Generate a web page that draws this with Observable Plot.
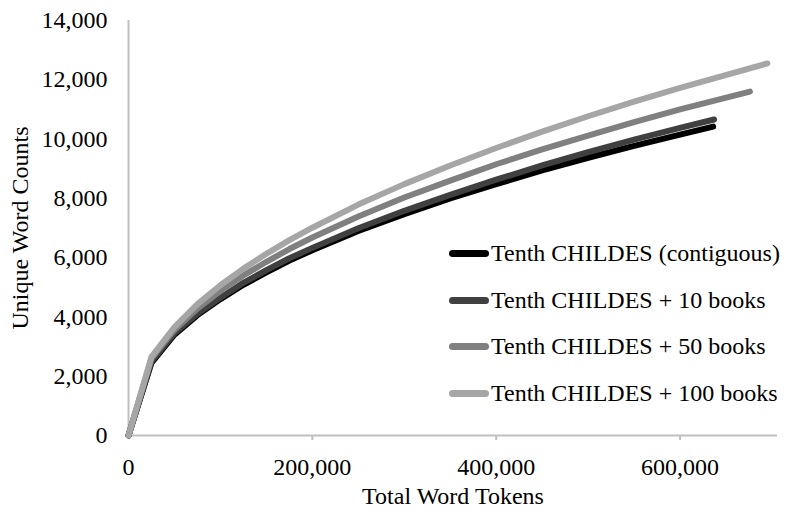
<!DOCTYPE html>
<html>
<head>
<meta charset="utf-8">
<script src="https://cdn.jsdelivr.net/npm/d3@7"></script>
<script src="https://cdn.jsdelivr.net/npm/@observablehq/plot@0.6"></script>
<style>
  html, body { margin: 0; padding: 0; background: #fff; }
  #wrap { position: relative; width: 791px; height: 516px; font-family: "Liberation Serif", "Times New Roman", serif; }
  .row { position: absolute; display: flex; align-items: center; font-size: 24px; color: #000; white-space: nowrap; }
  .sw { width: 40px; height: 7px; border-radius: 4px; margin-right: 2px; }
</style>
</head>
<body>
<div id="wrap"></div>
<script>
// ---- data ----
const seriesNames = [
  "Tenth CHILDES (contiguous)",
  "Tenth CHILDES + 10 books",
  "Tenth CHILDES + 50 books",
  "Tenth CHILDES + 100 books"
];
const seriesColors = ["#000000", "#404040", "#808080", "#a6a6a6"];

const contiguousX = [0, 25000, 50000, 75000, 100000, 125000, 150000, 175000, 200000, 250000, 300000, 350000, 400000, 450000, 500000, 550000, 600000, 636000];
const contiguousY = [0, 2450, 3400, 4060, 4600, 5085, 5500, 5900, 6250, 6900, 7470, 8000, 8480, 8940, 9370, 9770, 10150, 10420];

const books10X = [0, 25000, 50000, 75000, 100000, 125000, 150000, 175000, 200000, 250000, 300000, 350000, 400000, 450000, 500000, 550000, 600000, 637000];
const books10Y = [0, 2500, 3450, 4110, 4650, 5150, 5580, 5980, 6330, 6990, 7580, 8120, 8630, 9110, 9560, 9980, 10380, 10660];

const books50X = [0, 25000, 50000, 75000, 100000, 125000, 150000, 175000, 200000, 250000, 300000, 350000, 400000, 450000, 500000, 550000, 600000, 676000];
const books50Y = [0, 2600, 3560, 4280, 4880, 5400, 5860, 6290, 6680, 7390, 8030, 8600, 9150, 9650, 10120, 10570, 11000, 11600];

const books100X = [0, 25000, 50000, 75000, 100000, 125000, 150000, 175000, 200000, 250000, 300000, 350000, 400000, 450000, 500000, 550000, 600000, 695000];
const books100Y = [0, 2650, 3660, 4430, 5070, 5630, 6130, 6590, 7010, 7790, 8480, 9110, 9700, 10250, 10770, 11260, 11730, 12550];

const xTicks = [0, 200000, 400000, 600000];
const yTicks = [0, 2000, 4000, 6000, 8000, 10000, 12000, 14000];
const xLabel = "Total Word Tokens";
const yLabel = "Unique Word Counts";

// ---- build table ----
const seriesXs = [contiguousX, books10X, books50X, books100X];
const seriesYs = [contiguousY, books10Y, books50Y, books100Y];
const rows = [];
seriesNames.forEach((name, i) => {
  seriesXs[i].forEach((x, j) => rows.push({series: name, tokens: x, unique: seriesYs[i][j]}));
});

const fmt = d3.format(",");
const axisGray = "#bfbfbf";

const chart = Plot.plot({
  width: 791,
  height: 516,
  marginLeft: 128,
  marginRight: 14,
  marginTop: 20,
  marginBottom: 81,
  style: {fontFamily: "'Liberation Serif', 'Times New Roman', serif", fontSize: "24px", color: "#000", background: "#fff"},
  x: {type: "linear", domain: [0, 706000], ticks: xTicks},
  y: {type: "linear", domain: [0, 14000], ticks: yTicks},
  color: {domain: seriesNames, range: seriesColors},
  marks: [
    Plot.ruleY([0], {stroke: axisGray, strokeWidth: 2}),
    Plot.ruleX([0], {stroke: axisGray, strokeWidth: 2}),
    Plot.axisX({ticks: xTicks.filter(d => d > 0), tickSize: 5, stroke: axisGray, strokeWidth: 2, text: null, label: null}),
    Plot.axisX({ticks: xTicks, tickFormat: fmt, tickSize: 0, tickPadding: 22, fontSize: 24, label: null}),
    Plot.axisY({ticks: yTicks, tickFormat: fmt, tickSize: 0, tickPadding: 21, fontSize: 24, label: null}),
    Plot.text([xLabel], {frameAnchor: "bottom", dy: 68, fontSize: 24, fill: "#000"}),
    Plot.text([yLabel], {frameAnchor: "left", dx: -108, rotate: -90, textAnchor: "middle", fontSize: 24, fill: "#000"}),
    Plot.line(rows, {x: "tokens", y: "unique", z: "series", stroke: "series", strokeWidth: 6,
      strokeLinecap: "round", strokeLinejoin: "round", curve: "linear"})
  ]
});

const wrap = document.getElementById("wrap");
wrap.appendChild(chart);

// legend (HTML overlay inside plot area)
const legendTops = [253, 300, 346, 393];
seriesNames.forEach((name, i) => {
  const row = document.createElement("div");
  row.className = "row";
  row.style.left = "449px";
  row.style.top = (legendTops[i] - 14) + "px";
  row.style.height = "28px";
  const sw = document.createElement("div");
  sw.className = "sw";
  sw.style.background = seriesColors[i];
  const tx = document.createElement("span");
  tx.textContent = name;
  row.appendChild(sw);
  row.appendChild(tx);
  wrap.appendChild(row);
});
</script>
</body>
</html>
